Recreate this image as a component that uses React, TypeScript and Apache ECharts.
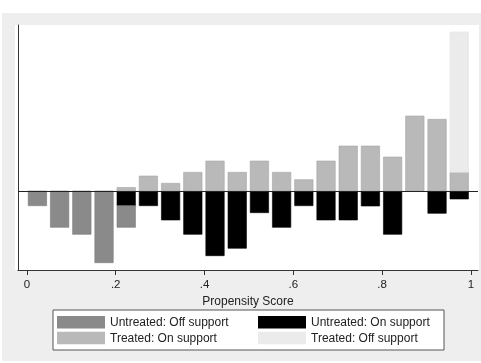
import React, { useEffect, useRef } from "react";
import * as echarts from "echarts";

// Histogram bins (left edge of each 0.05-wide bin of the propensity score)
const binStart = [0, 0.05, 0.1, 0.15, 0.2, 0.25, 0.3, 0.35, 0.4, 0.45, 0.5, 0.55, 0.6, 0.65, 0.7, 0.75, 0.8, 0.85, 0.9, 0.95];
const BIN = 0.05;

// Frequencies (scaled) — untreated plotted below zero, treated above
const untreatedOn = [0, 0, 0, 0, 14.7, 14.7, 29, 43.3, 64.7, 57.3, 21.7, 36.3, 14.7, 29, 29, 15, 43.3, 0, 22.3, 8];
const untreatedOff = [14.7, 36.3, 43.3, 71.7, 21.6, 0, 0, 0, 0, 0, 0, 0, 0, 0, 0, 0, 0, 0, 0, 0];
const treatedOn = [0, 0, 0, 0, 3.5, 15, 7.7, 18.7, 30, 18.7, 30, 18.7, 11.3, 30, 45, 45, 34, 75, 71.7, 18.7];
const treatedOff = [0, 0, 0, 0, 0, 0, 0, 0, 0, 0, 0, 0, 0, 0, 0, 0, 0, 0, 0, 140.3];

const xTicks = [0, 0.2, 0.4, 0.6, 0.8, 1];
const names = ["Untreated: Off support", "Untreated: On support", "Treated: On support", "Treated: Off support"];

const FONT = "Liberation Sans, Arial, sans-serif";

function makeData(vals: number[], base: number[], sign: number) {
  const out: number[][] = [];
  vals.forEach((v, i) => {
    if (v > 0) {
      const b = base[i] * sign;
      out.push([binStart[i], b, b + v * sign]);
    }
  });
  return out;
}

const zeros = binStart.map(() => 0);

export default function App() {
  const ref = useRef<HTMLDivElement>(null);
  useEffect(() => {
    if (!ref.current) return;
    const chart = echarts.init(ref.current, null, { renderer: "svg" });

    const renderItem = (stroke: string) => (params: any, api: any) => {
      const s = api.value(0);
      const a = api.value(1);
      const b = api.value(2);
      const top = Math.max(a, b);
      const bot = Math.min(a, b);
      const p0 = api.coord([s + 0.003, top]);
      const p1 = api.coord([s + BIN - 0.0055, bot]);
      return {
        type: "rect",
        shape: { x: p0[0], y: p0[1], width: p1[0] - p0[0], height: p1[1] - p0[1] },
        style: { fill: api.visual("color"), stroke, lineWidth: 0.6 },
      };
    };

    const mk = (name: string, data: number[][], color: string, stroke: string, extra: any = {}) => ({
      type: "custom",
      name,
      data,
      dimensions: ["start", "from", "to"],
      encode: { x: 0, y: [1, 2] },
      itemStyle: { color },
      renderItem: renderItem(stroke),
      ...extra,
    });

    const legendCommon = {
      orient: "vertical",
      top: 316,
      padding: 0,
      itemGap: 3.2,
      itemWidth: 48,
      itemHeight: 12.5,
      icon: "rect",
      z: 5,
      textStyle: { fontSize: 12, color: "#222", fontFamily: FONT, lineHeight: 12.5 },
    };

    chart.setOption({
      animation: false,
      textStyle: { fontFamily: FONT },
      graphic: [
        { type: "rect", z: -20, shape: { x: 2, y: 13, width: 479, height: 348 }, style: { fill: "#eeeeee" } },
        { type: "rect", z: -19, shape: { x: 15, y: 25, width: 464, height: 245 }, style: { fill: "#ffffff" } },
        { type: "rect", z: 1, shape: { x: 53, y: 310, width: 391, height: 40 }, style: { fill: "#ffffff", stroke: "#555555", lineWidth: 1 } },
      ],
      grid: { left: 18, right: 3, top: 25, bottom: 93 },
      xAxis: {
        type: "value",
        min: -0.02,
        max: 1.016,
        name: "Propensity Score",
        nameLocation: "middle",
        nameGap: 20,
        nameTextStyle: { fontSize: 12, color: "#222", fontFamily: FONT },
        splitLine: { show: false },
        axisLine: { onZero: false, lineStyle: { color: "#333", width: 1 } },
        axisTick: { show: true, length: 5, customValues: xTicks, lineStyle: { color: "#333" } },
        axisLabel: {
          customValues: xTicks,
          margin: 8,
          fontSize: 11.5,
          color: "#222",
          fontFamily: FONT,
          formatter: (v: number) => (v === 0 ? "0" : v === 1 ? "1" : String(v).replace(/^0\./, ".")),
        },
      },
      yAxis: {
        type: "value",
        min: -79,
        max: 166,
        splitLine: { show: false },
        axisLine: { show: true, onZero: false, lineStyle: { color: "#333", width: 1 } },
        axisTick: { show: false },
        axisLabel: { show: false },
      },
      legend: [
        { ...legendCommon, data: [names[0], names[2]], left: 57 },
        { ...legendCommon, data: [names[1], names[3]], left: 258 },
      ],
      series: [
        mk(names[1], makeData(untreatedOn, zeros, -1), "#000000", "#000000"),
        mk(names[0], makeData(untreatedOff, untreatedOn, -1), "#8a8a8a", "#7a7a7a"),
        mk(names[2], makeData(treatedOn, zeros, 1), "#b9b9b9", "#a5a5a5", {
          markLine: {
            silent: true,
            symbol: "none",
            label: { show: false },
            lineStyle: { color: "#222", width: 1, type: "solid" },
            data: [{ yAxis: 0 }],
          },
        }),
        mk(names[3], makeData(treatedOff, treatedOn, 1), "#ebebeb", "#e2e2e2"),
      ],
    });
    return () => chart.dispose();
  }, []);
  return <div ref={ref} style={{ position: "fixed", left: 0, top: 0, width: 481, height: 363 }} />;
}
